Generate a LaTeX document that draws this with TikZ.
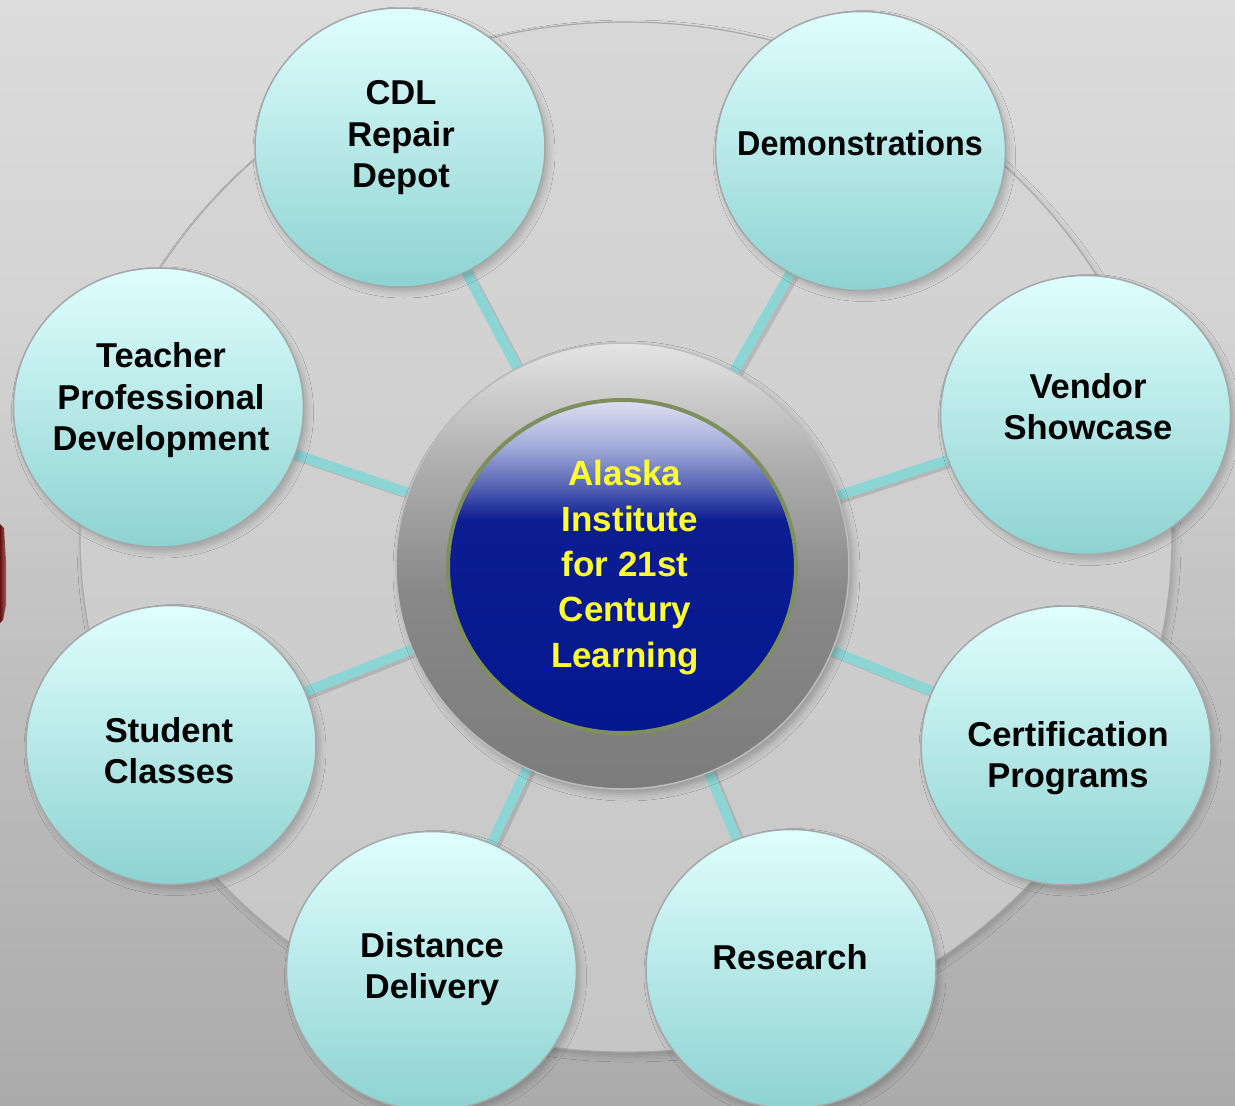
\documentclass[tikz,border=0pt]{standalone}
\usepackage{graphicx}
\usepackage{fontspec}
\setmainfont{Liberation Sans}
\usetikzlibrary{shapes.geometric,shadows.blur}
\definecolor{bgA}{HTML}{DCDCDC}
\definecolor{bgB}{HTML}{D3D3D3}
\definecolor{bgC}{HTML}{C0C0C0}
\definecolor{bgD}{HTML}{ABABAB}
\definecolor{discTop}{HTML}{D7D7D7}
\definecolor{discBot}{HTML}{C6C6C6}
\definecolor{discEdge}{HTML}{A9A9A9}
\definecolor{ringA}{HTML}{E4E4E4}
\definecolor{ringB}{HTML}{B0B0B0}
\definecolor{ringC}{HTML}{888888}
\definecolor{ringD}{HTML}{7C7C7C}
\definecolor{ringEdge}{HTML}{BDBDBD}
\definecolor{blueA}{HTML}{DDE0F0}
\definecolor{blueB}{HTML}{A3ABD9}
\definecolor{blueC}{HTML}{5563B3}
\definecolor{blueD}{HTML}{0C1D92}
\definecolor{blueE}{HTML}{04178F}
\definecolor{rim}{HTML}{7F8F5C}
\definecolor{bubbleTop}{HTML}{E0FEFE}
\definecolor{bubbleBot}{HTML}{8DD3D1}
\definecolor{bubbleEdge}{HTML}{A3A8A8}
\definecolor{linkCol}{HTML}{8DD5D5}
\definecolor{hubText}{HTML}{FFFF33}
\definecolor{redA}{HTML}{5E1414}
\definecolor{redB}{HTML}{A85A5A}
\pgfdeclareverticalshading{bgshade}{100bp}{color(0bp)=(bgD); color(25bp)=(bgD); color(45bp)=(bgC); color(60bp)=(bgB); color(75bp)=(bgA); color(100bp)=(bgA)}
\pgfdeclareverticalshading{ringshade}{100bp}{color(0bp)=(ringD); color(25bp)=(ringD); color(47bp)=(ringC); color(62bp)=(ringB); color(75bp)=(ringA); color(100bp)=(ringA)}
\pgfdeclareverticalshading{blueshade}{100bp}{color(0bp)=(blueE); color(25bp)=(blueE); color(57bp)=(blueD); color(62bp)=(blueC); color(68bp)=(blueB); color(75bp)=(blueA); color(100bp)=(blueA)}
\begin{document}
\begin{tikzpicture}[x=1pt,y=-1pt,
  bubble/.style={ellipse, draw=bubbleEdge, line width=1.5pt, top color=bubbleTop, bottom color=bubbleBot,
    minimum width=290pt, minimum height=279pt, inner sep=0pt,
    blur shadow={shadow xshift=4pt, shadow yshift=-5pt, shadow blur radius=6pt, shadow opacity=20}},
  txt/.style={font=\bfseries\fontsize{34.5}{41.5}\selectfont, align=center, text=black, inner sep=0pt},
  hubtxt/.style={font=\bfseries\fontsize{35}{45.3}\selectfont, align=center, text=hubText, inner sep=0pt},
  connector/.style={line width=10pt, draw=linkCol},
  connshadow/.style={line width=9pt, draw=black, opacity=0.12, transform canvas={xshift=4pt, yshift=-3pt}}
]
\useasboundingbox (0,0) rectangle (1235,1106);
\clip (0,0) rectangle (1235,1106);
% background
\path[shading=bgshade] (0,0) rectangle (1235,1106);
% red sliver at left edge
\path[left color=redA, right color=redB] (0,524) -- (4,528) -- (6,560) -- (6,605) -- (3,620) -- (0,623) -- cycle;
% big disc
\node[ellipse, minimum width=1092pt, minimum height=1030pt, inner sep=0pt, top color=discTop, bottom color=discBot,
  draw=discEdge, line width=1.2pt, blur shadow={shadow xshift=3pt, shadow yshift=-4pt, shadow blur radius=6pt, shadow opacity=18}] (disc) at (626,537) {};
% hub coordinates
\coordinate (hubc) at (622.5,566);
% outer bubble positions
\coordinate (p1) at (400,147.5);
\coordinate (p2) at (860.5,151);
\coordinate (p3) at (1085.5,415);
\coordinate (p4) at (1066,745.5);
\coordinate (p5) at (791,969);
\coordinate (p6) at (431.5,971);
\coordinate (p7) at (171,745);
\coordinate (p8) at (158.5,407.5);
% connectors
\foreach \p in {p1,p2,p3,p4,p5,p6,p7,p8}{
  \draw[connshadow] (hubc) -- (\p);
  \draw[connector] (hubc) -- (\p);
}
% hub ring
\node[ellipse, minimum width=453pt, minimum height=446pt, inner sep=0pt, shading=ringshade, draw=ringEdge, line width=1.5pt,
  blur shadow={shadow xshift=4pt, shadow yshift=-5pt, shadow blur radius=7pt, shadow opacity=25}] (hub) at (hubc) {};
\node[ellipse, minimum width=348pt, minimum height=333pt, inner sep=0pt, shading=blueshade, draw=rim, line width=4pt] (core) at (622,566.5) {};
\node[hubtxt] (coretext) at (625,567.5) {Alaska\strut\\\ Institute\strut\\for 21st\strut\\Century\strut\\Learning\strut};
% bubbles
\node[bubble] (cdl) at (p1) {};
\node[bubble] (demo) at (p2) {};
\node[bubble] (vendor) at (p3) {};
\node[bubble] (cert) at (p4) {};
\node[bubble] (research) at (p5) {};
\node[bubble] (distance) at (p6) {};
\node[bubble] (student) at (p7) {};
\node[bubble] (teacher) at (p8) {};
% labels
\node[txt] (cdlt) at (401,138) {CDL\strut\\Repair\strut\\Depot\strut};
\node[txt] (demot) at (860,147) {\scalebox{0.935}[1]{Demonstrations}\strut};
\node[txt] (vendort) at (1088,410.5) {Vendor\strut\\Showcase\strut};
\node[txt] (certt) at (1068,758.5) {Certification\strut\\Programs\strut};
\node[txt] (researcht) at (790,961) {Research\strut};
\node[txt] (distancet) at (432,969.5) {Distance\strut\\Delivery\strut};
\node[txt] (studentt) at (169,754.5) {Student\strut\\Classes\strut};
\node[txt] (teachert) at (161,401) {Teacher\strut\\Professional\strut\\Development\strut};
\end{tikzpicture}
\end{document}
